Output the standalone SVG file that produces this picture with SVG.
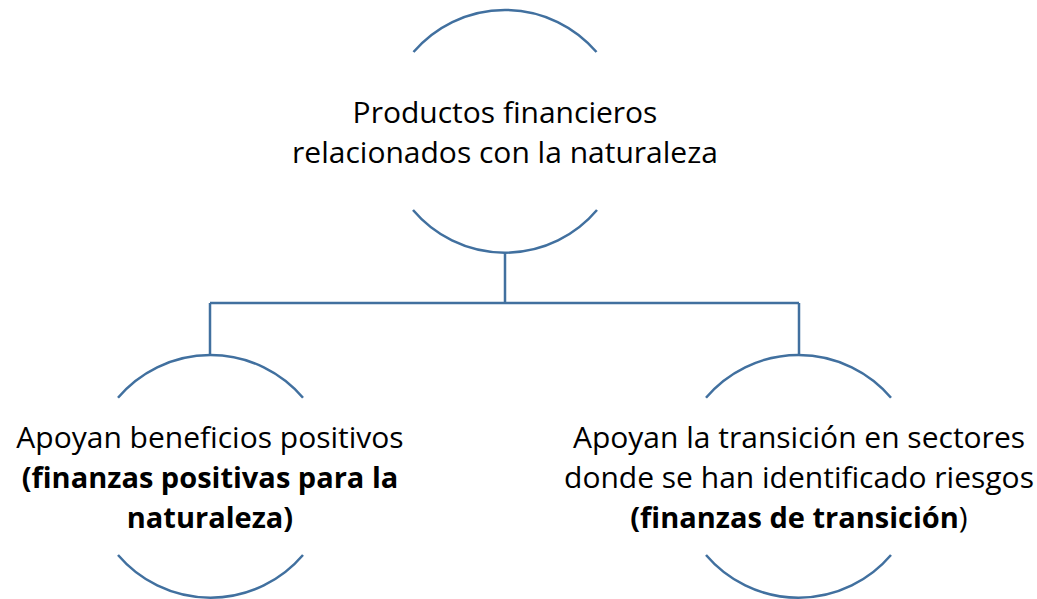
<svg xmlns="http://www.w3.org/2000/svg" width="1037" height="599" viewBox="0 0 1037 599">
<style>
.arc{fill:none;stroke:#41709f;stroke-width:2.5}
.con{fill:none;stroke:#41709f;stroke-width:2.5}
text{font-family:"Open Sans","Noto Sans",sans-serif;font-size:30px;fill:#000;text-anchor:middle}
.b{font-weight:bold;font-size:29px}
</style>
<rect width="1037" height="599" fill="#fff"/>
<g id="connectors">
<path class="con" d="M505,252 V303 M210,303 H799 M210,303 V354 M799,303 V354"/>
</g>
<g id="node-top">
<path class="arc" d="M413.5,52 A120.5,120.5 0 0 1 596.5,52"/>
<path class="arc" d="M413,210 A120.5,120.5 0 0 0 597,210"/>
<text x="505" y="123">Productos financieros</text>
<text x="505" y="163">relacionados con la naturaleza</text>
</g>
<g id="node-left">
<path class="arc" d="M118,397.7 A121.5,121.5 0 0 1 303,397.7"/>
<path class="arc" d="M118,555 A121.5,121.5 0 0 0 303,555"/>
<text x="210" y="448">Apoyan beneficios positivos</text>
<text x="210" y="488" class="b">(finanzas positivas para la</text>
<text x="210" y="528" class="b">naturaleza)</text>
</g>
<g id="node-right">
<path class="arc" d="M706,397.7 A121.5,121.5 0 0 1 891,397.7"/>
<path class="arc" d="M706,555 A121.5,121.5 0 0 0 891,555"/>
<text x="799" y="448">Apoyan la transición en sectores</text>
<text x="799" y="488">donde se han identificado riesgos</text>
<text x="799" y="528"><tspan class="b">(finanzas de transición</tspan>)</text>
</g>
</svg>
